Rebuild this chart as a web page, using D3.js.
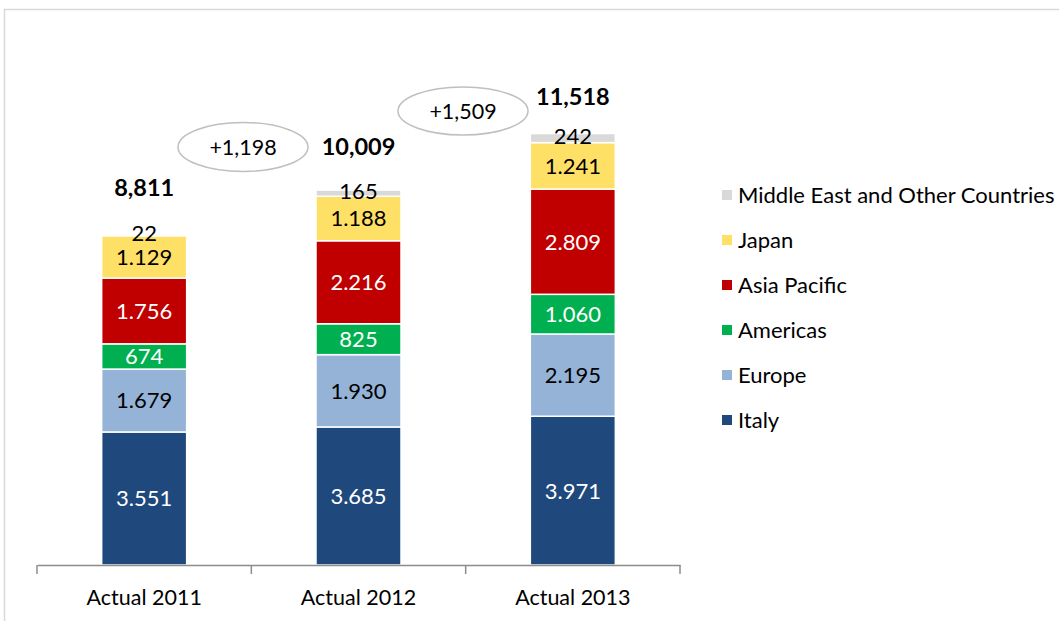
<!DOCTYPE html>
<html>
<head>
<meta charset="utf-8">
<script src="https://cdn.jsdelivr.net/npm/d3@7"></script>
<style>
  html, body { margin: 0; padding: 0; background: #fff; }
  svg { display: block; font-family: Lato, "Open Sans", sans-serif; }
</style>
</head>
<body>
<svg id="chart" width="1059" height="621"></svg>
<script>
// Revenue by region, stacked per year
const years = ["Actual 2011", "Actual 2012", "Actual 2013"];
const regions = ["Italy", "Europe", "Americas", "Asia Pacific", "Japan", "Middle East and Other Countries"];
const italy = [3551, 3685, 3971];
const europe = [1679, 1930, 2195];
const americas = [674, 825, 1060];
const asiaPacific = [1756, 2216, 2809];
const japan = [1129, 1188, 1241];
const middleEast = [22, 165, 242];
const totals = [8811, 10009, 11518];
const deltas = ["+1,198", "+1,509"];

const colors = ["#1f497d", "#95b3d7", "#00b050", "#c00000", "#ffe066", "#d9d9d9"];
const labelColors = ["#fff", "#000", "#fff", "#fff", "#000", "#000"];

const seriesValues = [italy, europe, americas, asiaPacific, japan, middleEast];
const rows = years.map((y, i) => {
  const r = { year: y };
  regions.forEach((k, j) => r[k] = seriesValues[j][i]);
  return r;
});
const stacked = d3.stack().keys(regions)(rows);

const svg = d3.select("#chart");

// outer frame
svg.append("path")
  .attr("d", "M4.5,621 L4.5,9.5 L1059,9.5")
  .attr("fill", "none").attr("stroke", "#d9d9d9").attr("stroke-width", 1.5);

const x = d3.scaleBand().domain(years).range([37, 680]).paddingInner(0).paddingOuter(0);
const y = d3.scaleLinear().domain([0, 12000]).range([565, 565 - 12000 * 0.03746]);
const barW = 85;

const g = svg.append("g");
stacked.forEach((layer, j) => {
  const grp = g.append("g");
  grp.selectAll("rect").data(layer).enter().append("rect")
    .attr("x", d => x(d.data.year) + x.bandwidth() / 2 - barW / 2)
    .attr("width", barW)
    .attr("y", d => y(d[1]))
    .attr("height", d => y(d[0]) - y(d[1]))
    .attr("fill", colors[j])
    .attr("stroke", "#fff").attr("stroke-width", 1.5);
  // the thin top segment carries its label lifted a little
  const lift = j === regions.length - 1 ? -2 : 0;
  grp.selectAll("text").data(layer).enter().append("text")
    .attr("x", d => x(d.data.year) + x.bandwidth() / 2)
    .attr("y", d => (y(d[0]) + y(d[1])) / 2 + lift)
    .attr("dy", "0.36em")
    .attr("text-anchor", "middle")
    .attr("font-size", 22)
    .attr("fill", labelColors[j])
    .text(d => {
      const v = d[1] - d[0];
      return v >= 1000 ? d3.format(",")(v).replace(",", ".") : String(v);
    });
});

// totals above bars
const totalOffsets = [47, 44, 37];
g.selectAll(".total").data(totals).enter().append("text")
  .attr("class", "total")
  .attr("x", (d, i) => x(years[i]) + x.bandwidth() / 2)
  .attr("y", (d, i) => y(d) - totalOffsets[i])
  .attr("dy", "0.36em")
  .attr("text-anchor", "middle")
  .attr("font-size", 23.5).attr("font-weight", "bold")
  .text(d => d3.format(",")(d));

// growth bubbles between years
const bubbles = [{ cx: 243, cy: 147, rx: 65, ry: 24.5 }, { cx: 463, cy: 111, rx: 65, ry: 24 }];
bubbles.forEach((b, i) => {
  svg.append("ellipse")
    .attr("cx", b.cx).attr("cy", b.cy).attr("rx", b.rx).attr("ry", b.ry)
    .attr("fill", "#fff").attr("stroke", "#bfbfbf").attr("stroke-width", 1.5);
  svg.append("text")
    .attr("x", b.cx).attr("y", b.cy).attr("dy", "0.36em")
    .attr("text-anchor", "middle").attr("font-size", 21.5)
    .text(deltas[i]);
});

// category axis
const axis = d3.axisBottom(x).tickSize(0).tickPadding(0);
const ax = svg.append("g").attr("transform", "translate(0,565)").call(axis);
ax.select(".domain").attr("stroke", "#8c8c8c").attr("stroke-width", 1.5);
ax.selectAll(".tick text")
  .attr("y", 40).attr("dy", "0")
  .attr("font-size", 21.5).attr("font-family", "Lato, 'Open Sans', sans-serif").attr("fill", "#000");
const bounds = [x(years[0]), ...years.map(yy => x(yy) + x.bandwidth())];
ax.selectAll(".sep").data(bounds).enter().append("line")
  .attr("class", "sep")
  .attr("x1", d => d).attr("x2", d => d)
  .attr("y1", 0).attr("y2", 9)
  .attr("stroke", "#8c8c8c").attr("stroke-width", 1.5);

// legend, top entry is the last stacked series
const legend = svg.append("g").attr("transform", "translate(722,195)");
const legendOrder = regions.slice().reverse();
legendOrder.forEach((name, i) => {
  const row = legend.append("g").attr("transform", `translate(0,${i * 45})`);
  row.append("rect").attr("x", 0).attr("y", -5).attr("width", 10).attr("height", 10)
    .attr("fill", colors[regions.indexOf(name)]);
  row.append("text").attr("x", 16).attr("y", 0).attr("dy", "0.36em")
    .attr("font-size", 22).attr("fill", "#000").text(name);
});
</script>
</body>
</html>
